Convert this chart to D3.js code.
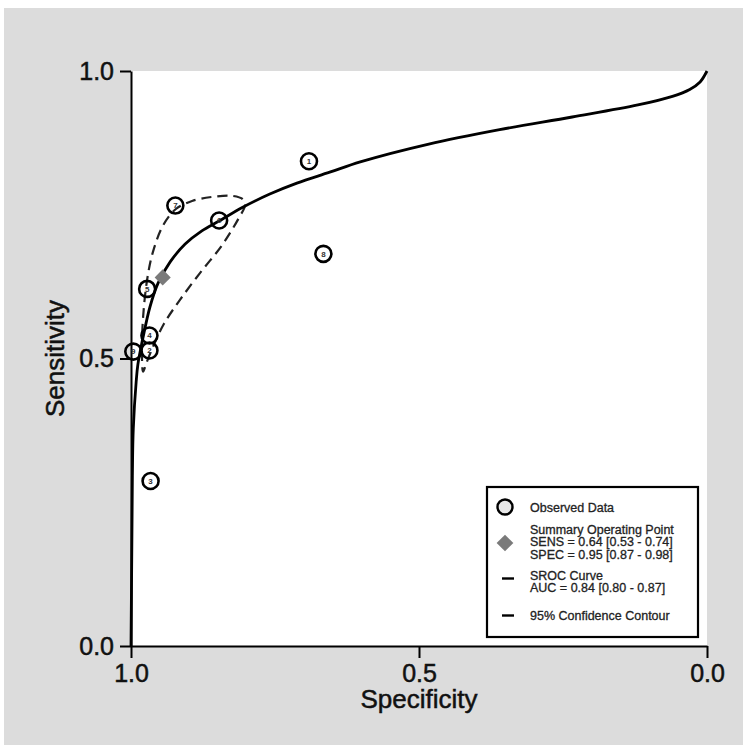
<!DOCTYPE html>
<html>
<head>
<meta charset="utf-8">
<script src="https://cdn.jsdelivr.net/npm/d3@7"></script>
<style>
  body { margin: 0; background: #ffffff; }
  svg { display: block; font-family: "Liberation Sans", Arial, sans-serif; }
</style>
</head>
<body>
<svg id="chart" width="749" height="749"></svg>
<script>
// study points
const studyIds = [1, 2, 3, 4, 5, 6, 7, 8, 9];
const studySpec = [0.691, 0.968, 0.966, 0.968, 0.972, 0.847, 0.923, 0.666, 0.996];
const studySens = [0.843, 0.514, 0.287, 0.540, 0.621, 0.740, 0.766, 0.682, 0.512];

// summary operating point
const summarySpec = 0.945;
const summarySens = 0.641;

// SROC curve, traced
const srocSpec = [1.0, 0.9986, 0.9976, 0.996, 0.991, 0.988, 0.979, 0.967, 0.953, 0.932, 0.906, 0.877, 0.847, 0.806, 0.759, 0.712, 0.655, 0.602, 0.483, 0.36, 0.234, 0.12, 0.06, 0.03, 0.012, 0.0];
const srocSens = [0.0, 0.167, 0.296, 0.379, 0.46, 0.49, 0.537, 0.59, 0.631, 0.668, 0.699, 0.722, 0.739, 0.763, 0.786, 0.805, 0.824, 0.842, 0.873, 0.898, 0.92, 0.941, 0.956, 0.968, 0.981, 1.0];

// 95% confidence contour, traced (closed)
const contourSpec = [0.979, 0.981, 0.979, 0.972, 0.962, 0.944, 0.922, 0.894, 0.859, 0.825, 0.806, 0.802, 0.813, 0.842, 0.88, 0.915, 0.943, 0.962, 0.974];
const contourSens = [0.477, 0.515, 0.572, 0.637, 0.685, 0.732, 0.76, 0.774, 0.781, 0.783, 0.777, 0.767, 0.744, 0.697, 0.649, 0.602, 0.56, 0.52, 0.49];

const tickValues = [0, 0.5, 1];

const legendLines = [
  ["Observed Data"],
  ["Summary Operating  Point", "SENS = 0.64 [0.53 - 0.74]", "SPEC = 0.95 [0.87 - 0.98]"],
  ["SROC Curve", "AUC = 0.84 [0.80 - 0.87]"],
  ["95% Confidence Contour"],
];

const svg = d3.select("#chart");
const plot = { left: 131, right: 707, top: 71, bottom: 646 };

const x = d3.scaleLinear().domain([1, 0]).range([plot.left, plot.right]);
const y = d3.scaleLinear().domain([0, 1]).range([plot.bottom, plot.top]);

// backgrounds
svg.append("rect").attr("x", 4).attr("y", 8).attr("width", 739).attr("height", 737).attr("fill", "#dcdcdc");
svg.append("rect")
  .attr("x", plot.left).attr("y", plot.top)
  .attr("width", plot.right - plot.left).attr("height", plot.bottom - plot.top)
  .attr("fill", "#ffffff");

// axes
const styleAxis = (g) => {
  g.select(".domain").attr("stroke", "#000").attr("stroke-width", 2);
  g.selectAll(".tick line").attr("stroke", "#000").attr("stroke-width", 2);
  g.selectAll(".tick text")
    .attr("fill", "#111").attr("stroke", "#111").attr("stroke-width", 0.5)
    .style("font-size", "25px");
};

svg.append("g")
  .attr("transform", `translate(${plot.left},0)`)
  .call(d3.axisLeft(y).tickValues(tickValues).tickFormat(d3.format(".1f")).tickSize(11).tickSizeOuter(0).tickPadding(6))
  .call(styleAxis);

svg.append("g")
  .attr("transform", `translate(0,${plot.bottom})`)
  .call(d3.axisBottom(x).tickValues(tickValues).tickFormat(d3.format(".1f")).tickSize(12).tickSizeOuter(0).tickPadding(6))
  .call(styleAxis);

svg.append("text")
  .attr("x", (plot.left + plot.right) / 2).attr("y", 708)
  .attr("text-anchor", "middle").attr("fill", "#111")
  .attr("stroke", "#111").attr("stroke-width", 0.5)
  .style("font-size", "26px")
  .text("Specificity");

svg.append("text")
  .attr("transform", `translate(64,${(plot.top + plot.bottom) / 2}) rotate(-90)`)
  .attr("text-anchor", "middle").attr("fill", "#111")
  .attr("stroke", "#111").attr("stroke-width", 0.5)
  .style("font-size", "26px")
  .text("Sensitivity");

// confidence contour
const contour = contourSpec.map((s, i) => [x(s), y(contourSens[i])]);
svg.append("path")
  .attr("d", d3.line().curve(d3.curveCatmullRomClosed.alpha(0.5))(contour))
  .attr("fill", "none").attr("stroke", "#222").attr("stroke-width", 2.2)
  .attr("stroke-dasharray", "10,6");

// SROC curve
const sroc = srocSpec.map((s, i) => [x(s), y(srocSens[i])]);
svg.append("path")
  .attr("d", d3.line().curve(d3.curveCatmullRom.alpha(0.5))(sroc))
  .attr("fill", "none").attr("stroke", "#000").attr("stroke-width", 2.8);

// summary point
svg.append("path")
  .attr("transform", `translate(${x(summarySpec)},${y(summarySens)}) rotate(45)`)
  .attr("d", d3.symbol(d3.symbolSquare, 130)())
  .attr("fill", "#7a7a7a");

// study points
const pts = svg.append("g").selectAll("g")
  .data(studyIds)
  .join("g")
  .attr("transform", (d, i) => `translate(${x(studySpec[i])},${y(studySens[i])})`);

pts.append("circle").attr("r", 8).attr("fill", "none").attr("stroke", "#000").attr("stroke-width", 2.6);
pts.append("text")
  .attr("text-anchor", "middle").attr("dy", "0.35em")
  .style("font-size", "8px").style("font-weight", "bold").attr("fill", "#333")
  .text((d) => d);

// legend
const legend = svg.append("g");
legend.append("rect")
  .attr("x", 487).attr("y", 487).attr("width", 211).attr("height", 150)
  .attr("fill", "#fff").attr("stroke", "#000").attr("stroke-width", 2.2);

const firstBaselines = [512, 533.5, 579.5, 619.5];
legendLines.forEach((lines, k) => {
  const t = legend.append("text")
    .attr("fill", "#222").attr("stroke", "#222").attr("stroke-width", 0.3)
    .style("font-size", "12.5px");
  lines.forEach((line, j) => {
    t.append("tspan").attr("x", 530).attr("y", firstBaselines[k] + j * 12.5).text(line);
  });
});

legend.append("circle").attr("cx", 505).attr("cy", 507).attr("r", 7.5)
  .attr("fill", "#e8e8e8").attr("stroke", "#000").attr("stroke-width", 2.4);
legend.append("path")
  .attr("transform", "translate(505,543) rotate(45)")
  .attr("d", d3.symbol(d3.symbolSquare, 140)())
  .attr("fill", "#7a7a7a");
legend.append("line").attr("x1", 502).attr("x2", 514).attr("y1", 578.5).attr("y2", 578.5)
  .attr("stroke", "#000").attr("stroke-width", 2.4);
legend.append("line").attr("x1", 502).attr("x2", 514).attr("y1", 615.5).attr("y2", 615.5)
  .attr("stroke", "#000").attr("stroke-width", 2.4);
</script>
</body>
</html>
